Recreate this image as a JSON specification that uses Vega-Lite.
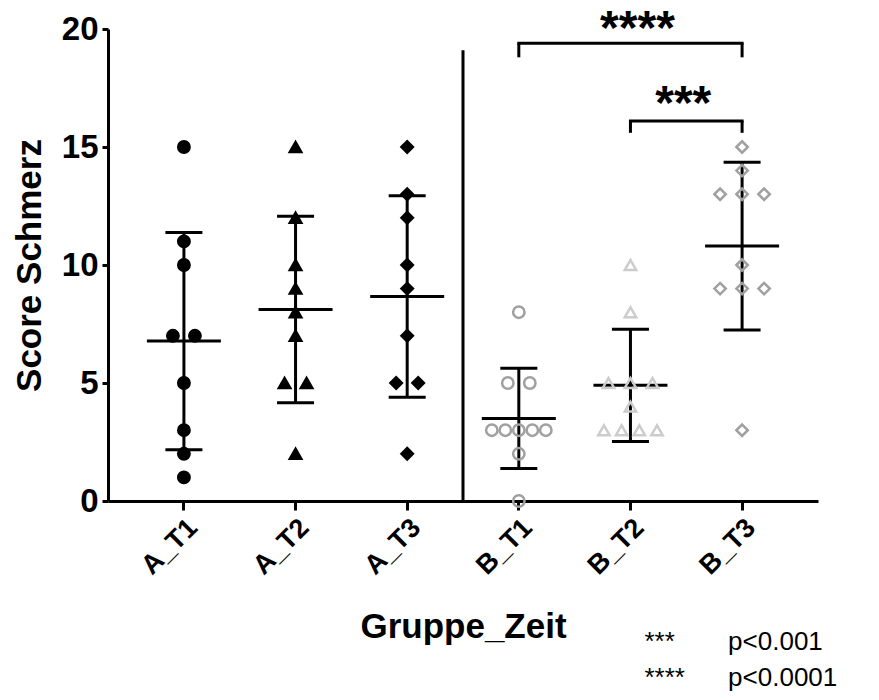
{
  "$schema": "https://vega.github.io/schema/vega-lite/v6.json",
  "autosize": {"type": "none"},
  "width": 710,
  "height": 472,
  "padding": {"left": 108, "top": 29, "right": 61, "bottom": 199},
  "background": "white",
  "config": {
    "font": "Liberation Sans",
    "view": {"stroke": null},
    "axis": {"grid": false, "domainColor": "black", "domainWidth": 3, "tickColor": "black", "tickWidth": 3, "labelColor": "black", "titleColor": "black", "labelFont": "Liberation Sans", "titleFont": "Liberation Sans", "labelFontWeight": "bold", "titleFontWeight": "bold"},
    "axisY": {"tickCount": 4, "labelFontSize": 33, "titleFontSize": 35, "tickSize": 6, "labelPadding": 4, "titlePadding": 14},
    "axisX": {"labelAngle": -45, "labelFontSize": 27, "titleFontSize": 35, "tickSize": 9, "labelPadding": 4, "titlePadding": 30}
  },
  "datasets": {
    "scores": [
      {"group": "A_T1", "score": 15}, {"group": "A_T1", "score": 11}, {"group": "A_T1", "score": 10}, {"group": "A_T1", "score": 7}, {"group": "A_T1", "score": 7}, {"group": "A_T1", "score": 5}, {"group": "A_T1", "score": 3}, {"group": "A_T1", "score": 2}, {"group": "A_T1", "score": 1},
      {"group": "A_T2", "score": 15}, {"group": "A_T2", "score": 12}, {"group": "A_T2", "score": 10}, {"group": "A_T2", "score": 9}, {"group": "A_T2", "score": 8}, {"group": "A_T2", "score": 7}, {"group": "A_T2", "score": 5}, {"group": "A_T2", "score": 5}, {"group": "A_T2", "score": 2},
      {"group": "A_T3", "score": 15}, {"group": "A_T3", "score": 13}, {"group": "A_T3", "score": 12}, {"group": "A_T3", "score": 10}, {"group": "A_T3", "score": 9}, {"group": "A_T3", "score": 7}, {"group": "A_T3", "score": 5}, {"group": "A_T3", "score": 5}, {"group": "A_T3", "score": 2},
      {"group": "B_T1", "score": 8}, {"group": "B_T1", "score": 5}, {"group": "B_T1", "score": 5}, {"group": "B_T1", "score": 3}, {"group": "B_T1", "score": 3}, {"group": "B_T1", "score": 3}, {"group": "B_T1", "score": 3}, {"group": "B_T1", "score": 3}, {"group": "B_T1", "score": 2}, {"group": "B_T1", "score": 0},
      {"group": "B_T2", "score": 10}, {"group": "B_T2", "score": 8}, {"group": "B_T2", "score": 5}, {"group": "B_T2", "score": 5}, {"group": "B_T2", "score": 5}, {"group": "B_T2", "score": 4}, {"group": "B_T2", "score": 3}, {"group": "B_T2", "score": 3}, {"group": "B_T2", "score": 3}, {"group": "B_T2", "score": 3},
      {"group": "B_T3", "score": 15}, {"group": "B_T3", "score": 14}, {"group": "B_T3", "score": 13}, {"group": "B_T3", "score": 13}, {"group": "B_T3", "score": 13}, {"group": "B_T3", "score": 10}, {"group": "B_T3", "score": 9}, {"group": "B_T3", "score": 9}, {"group": "B_T3", "score": 9}, {"group": "B_T3", "score": 3}
    ],
    "brackets": [
      {"group": "B_T1", "group2": "B_T3", "score": 19.4, "score2": 18.8},
      {"group": "B_T2", "group2": "B_T3", "score": 16.1, "score2": 15.6}
    ],
    "starsTop": [{"group": "B_T2", "score": 19.37, "label": "****"}],
    "starsMid": [{"group": "B_T3", "score": 16.2, "label": "***"}],
    "separator": [{"group": "B_T1", "score": 0, "score2": 19.1}],
    "legendStars": [{"group": "B_T2", "score": -6.3, "label": "***"}, {"group": "B_T2", "score": -7.83, "label": "****"}],
    "legendP": [{"group": "B_T3", "score": -6.3, "label": "p<0.001"}, {"group": "B_T3", "score": -7.83, "label": "p<0.0001"}]
  },
  "layer": [
    {
      "data": {"name": "separator"},
      "mark": {"type": "rule", "strokeWidth": 3, "color": "black"},
      "encoding": {
        "x": {"field": "group", "type": "nominal", "bandPosition": 0, "title": "Gruppe_Zeit", "scale": {"type": "band", "paddingInner": 0, "paddingOuter": 0.18, "domain": ["A_T1", "A_T2", "A_T3", "B_T1", "B_T2", "B_T3"]}},
        "y": {"field": "score", "type": "quantitative", "title": "Score Schmerz", "scale": {"domain": [0, 20]}},
        "y2": {"field": "score2"}
      }
    },
    {
      "data": {"name": "scores"},
      "mark": {"type": "errorbar", "extent": "stdev", "color": "black", "ticks": {"size": 37, "thickness": 3, "color": "black", "opacity": 1}, "rule": {"strokeWidth": 3, "color": "black", "opacity": 1}},
      "encoding": {
        "x": {"field": "group", "type": "nominal", "title": "Gruppe_Zeit", "scale": {"type": "band", "paddingInner": 0, "paddingOuter": 0.18, "domain": ["A_T1", "A_T2", "A_T3", "B_T1", "B_T2", "B_T3"]}},
        "y": {"field": "score", "type": "quantitative", "title": "Score Schmerz", "scale": {"domain": [0, 20]}}
      }
    },
    {
      "data": {"name": "scores"},
      "mark": {"type": "tick", "size": 74, "thickness": 3, "color": "black", "opacity": 1},
      "encoding": {
        "x": {"field": "group", "type": "nominal", "title": "Gruppe_Zeit", "scale": {"type": "band", "paddingInner": 0, "paddingOuter": 0.18, "domain": ["A_T1", "A_T2", "A_T3", "B_T1", "B_T2", "B_T3"]}},
        "y": {"aggregate": "mean", "field": "score", "type": "quantitative", "title": "Score Schmerz", "scale": {"domain": [0, 20]}}
      }
    },
    {
      "data": {"name": "scores"},
      "transform": [
        {"window": [{"op": "row_number", "as": "r"}], "groupby": ["group", "score"]},
        {"joinaggregate": [{"op": "count", "as": "n"}], "groupby": ["group", "score"]},
        {"calculate": "(datum.r - (datum.n + 1) / 2) * (datum.n >= 5 ? 13.5 : (datum.n == 4 ? 17.7 : 22))", "as": "jit"}
      ],
      "mark": {"type": "point", "strokeWidth": 2.5, "opacity": 1},
      "encoding": {
        "x": {"field": "group", "type": "nominal", "title": "Gruppe_Zeit", "scale": {"type": "band", "paddingInner": 0, "paddingOuter": 0.18, "domain": ["A_T1", "A_T2", "A_T3", "B_T1", "B_T2", "B_T3"]}},
        "y": {"field": "score", "type": "quantitative", "title": "Score Schmerz", "scale": {"domain": [0, 20]}},
        "xOffset": {"field": "jit", "type": "quantitative", "scale": {"domain": [-55.8, 55.8]}},
        "shape": {"field": "group", "type": "nominal", "legend": null, "scale": {"domain": ["A_T1", "A_T2", "A_T3", "B_T1", "B_T2", "B_T3"], "range": ["circle", "triangle-up", "diamond", "circle", "triangle-up", "diamond"]}},
        "fill": {"field": "group", "type": "nominal", "legend": null, "scale": {"domain": ["A_T1", "A_T2", "A_T3", "B_T1", "B_T2", "B_T3"], "range": ["black", "black", "black", "transparent", "transparent", "transparent"]}},
        "stroke": {"field": "group", "type": "nominal", "legend": null, "scale": {"domain": ["A_T1", "A_T2", "A_T3", "B_T1", "B_T2", "B_T3"], "range": ["black", "black", "black", "#a0a0a0", "#cccccc", "#a0a0a0"]}},
        "size": {"field": "group", "type": "nominal", "legend": null, "scale": {"domain": ["A_T1", "A_T2", "A_T3", "B_T1", "B_T2", "B_T3"], "range": [130, 130, 110, 190, 210, 190]}}
      }
    },
    {
      "data": {"name": "brackets"},
      "mark": {"type": "rule", "strokeWidth": 3, "color": "black", "strokeCap": "square"},
      "encoding": {
        "x": {"field": "group", "type": "nominal", "title": "Gruppe_Zeit", "scale": {"type": "band", "paddingInner": 0, "paddingOuter": 0.18, "domain": ["A_T1", "A_T2", "A_T3", "B_T1", "B_T2", "B_T3"]}},
        "x2": {"field": "group2"},
        "y": {"field": "score", "type": "quantitative", "title": "Score Schmerz", "scale": {"domain": [0, 20]}}
      }
    },
    {
      "data": {"name": "brackets"},
      "mark": {"type": "rule", "strokeWidth": 3, "color": "black"},
      "encoding": {
        "x": {"field": "group", "type": "nominal", "title": "Gruppe_Zeit", "scale": {"type": "band", "paddingInner": 0, "paddingOuter": 0.18, "domain": ["A_T1", "A_T2", "A_T3", "B_T1", "B_T2", "B_T3"]}},
        "y": {"field": "score", "type": "quantitative", "title": "Score Schmerz", "scale": {"domain": [0, 20]}},
        "y2": {"field": "score2"}
      }
    },
    {
      "data": {"name": "brackets"},
      "mark": {"type": "rule", "strokeWidth": 3, "color": "black"},
      "encoding": {
        "x": {"field": "group2", "type": "nominal", "title": "Gruppe_Zeit", "scale": {"type": "band", "paddingInner": 0, "paddingOuter": 0.18, "domain": ["A_T1", "A_T2", "A_T3", "B_T1", "B_T2", "B_T3"]}},
        "y": {"field": "score", "type": "quantitative", "title": "Score Schmerz", "scale": {"domain": [0, 20]}},
        "y2": {"field": "score2"}
      }
    },
    {
      "data": {"name": "starsTop"},
      "mark": {"type": "text", "fontSize": 48, "fontWeight": "bold", "color": "black", "align": "center", "baseline": "alphabetic", "dx": 7},
      "encoding": {
        "x": {"field": "group", "type": "nominal", "title": "Gruppe_Zeit", "scale": {"type": "band", "paddingInner": 0, "paddingOuter": 0.18, "domain": ["A_T1", "A_T2", "A_T3", "B_T1", "B_T2", "B_T3"]}},
        "y": {"field": "score", "type": "quantitative", "title": "Score Schmerz", "scale": {"domain": [0, 20]}},
        "text": {"field": "label"}
      }
    },
    {
      "data": {"name": "starsMid"},
      "mark": {"type": "text", "fontSize": 48, "fontWeight": "bold", "color": "black", "align": "center", "baseline": "alphabetic", "dx": -3},
      "encoding": {
        "x": {"field": "group", "type": "nominal", "bandPosition": 0, "title": "Gruppe_Zeit", "scale": {"type": "band", "paddingInner": 0, "paddingOuter": 0.18, "domain": ["A_T1", "A_T2", "A_T3", "B_T1", "B_T2", "B_T3"]}},
        "y": {"field": "score", "type": "quantitative", "title": "Score Schmerz", "scale": {"domain": [0, 20]}},
        "text": {"field": "label"}
      }
    },
    {
      "data": {"name": "legendStars"},
      "mark": {"type": "text", "fontSize": 26, "color": "black", "align": "left", "baseline": "alphabetic", "dx": 14},
      "encoding": {
        "x": {"field": "group", "type": "nominal", "title": "Gruppe_Zeit", "scale": {"type": "band", "paddingInner": 0, "paddingOuter": 0.18, "domain": ["A_T1", "A_T2", "A_T3", "B_T1", "B_T2", "B_T3"]}},
        "y": {"field": "score", "type": "quantitative", "title": "Score Schmerz", "scale": {"domain": [0, 20]}},
        "text": {"field": "label"}
      }
    },
    {
      "data": {"name": "legendP"},
      "mark": {"type": "text", "fontSize": 26, "color": "black", "align": "left", "baseline": "alphabetic", "dx": -14},
      "encoding": {
        "x": {"field": "group", "type": "nominal", "title": "Gruppe_Zeit", "scale": {"type": "band", "paddingInner": 0, "paddingOuter": 0.18, "domain": ["A_T1", "A_T2", "A_T3", "B_T1", "B_T2", "B_T3"]}},
        "y": {"field": "score", "type": "quantitative", "title": "Score Schmerz", "scale": {"domain": [0, 20]}},
        "text": {"field": "label"}
      }
    }
  ]
}
